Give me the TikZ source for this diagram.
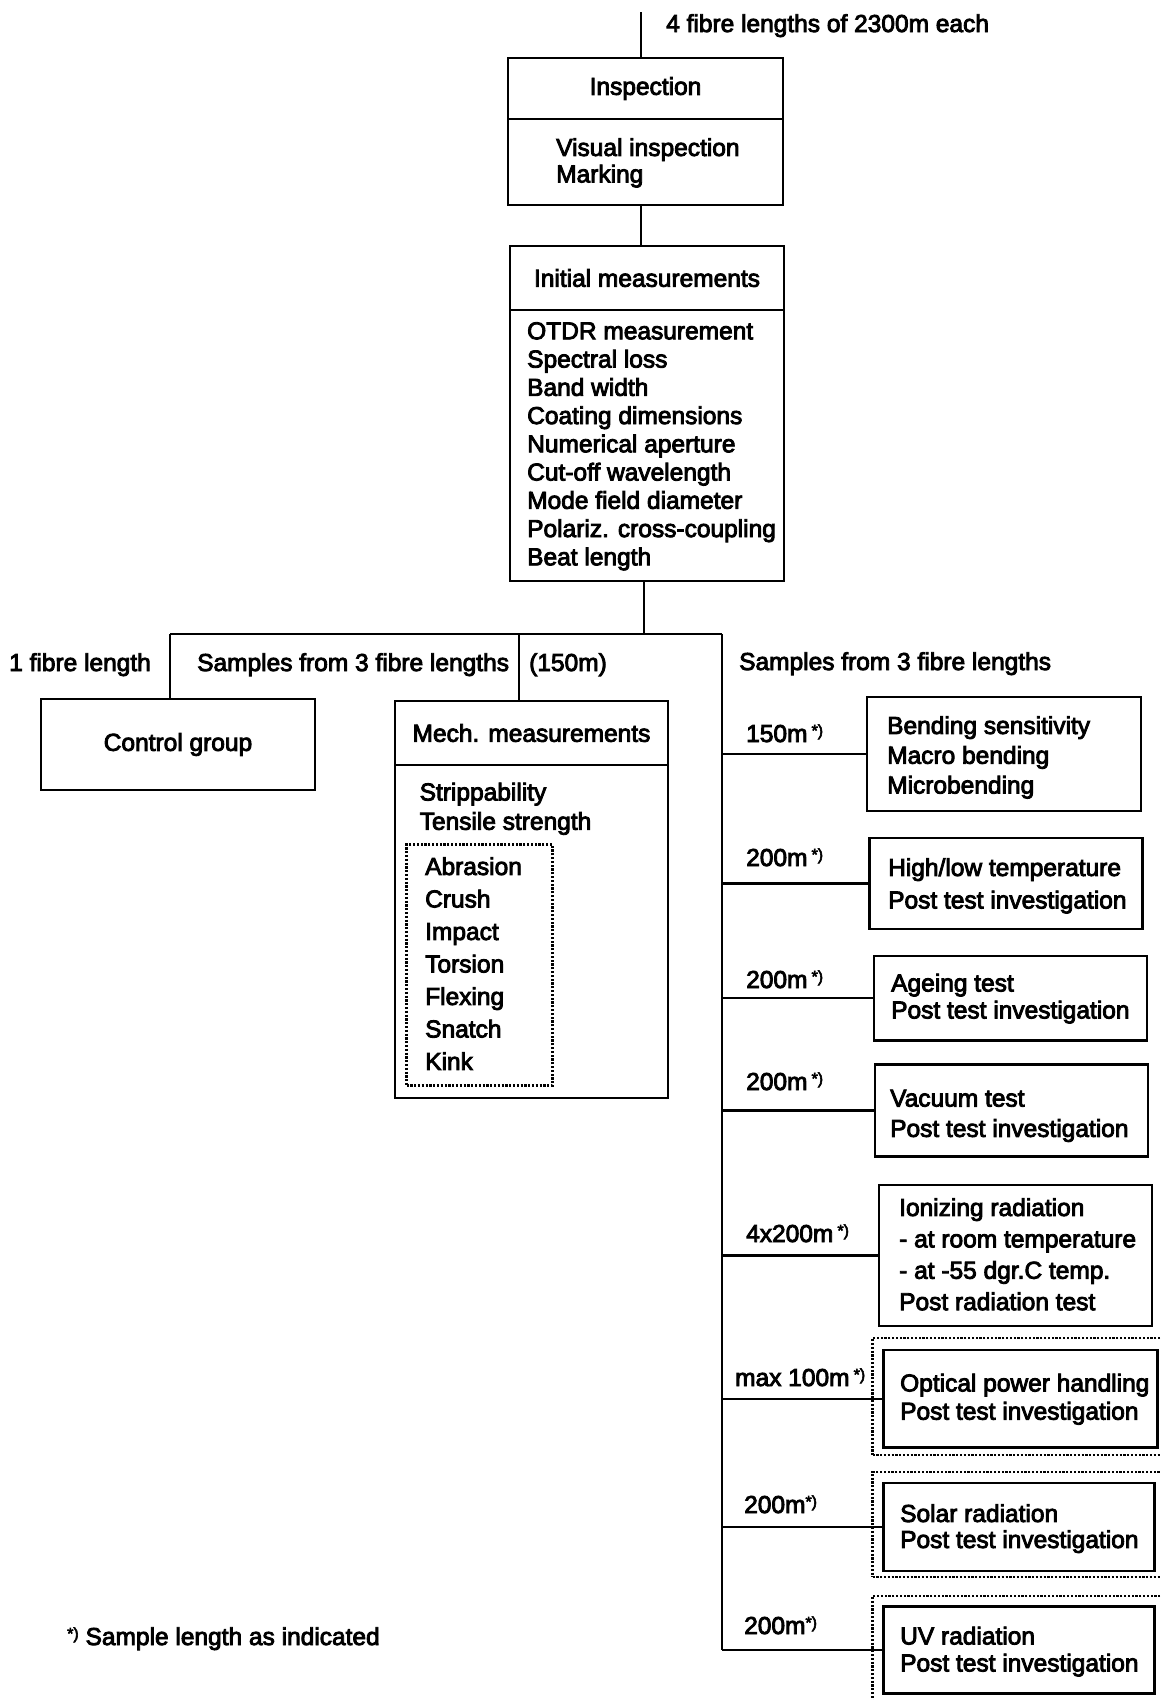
\documentclass[tikz,border=0pt]{standalone}
\usepackage{fontspec}
\setmainfont{Liberation Sans}[FakeBold=3.5]
\newcommand\diafont[1]{\fontsize{24.5pt}{#1pt}\selectfont}
\newcommand\fnmk{\raisebox{6pt}{\fontsize{16pt}{16pt}\selectfont *)}}
\begin{document}
\begin{tikzpicture}[x=1pt, y=-1pt,
  wire/.style={line width=2.2pt},
  box/.style={draw, line width=2.2pt, inner sep=0pt, outer sep=0pt, anchor=north west, font=\diafont{28}},
  dotbox/.style={draw, line width=2.2pt, dash pattern=on 2.2pt off 1.6pt, inner sep=0pt, outer sep=0pt, anchor=north west},
  lbl/.style={inner sep=0pt, anchor=base west, font=\diafont{28}},
  lst/.style={inner sep=0pt, anchor=north west, align=left, font=\diafont{#1}},
  lst/.default=28]
\useasboundingbox (0,0) rectangle (1160,1700);
\clip (0,0) rectangle (1160,1700);

% ---- inspection and initial measurements ----
\coordinate (feed) at (641,12);
\node[lbl] (feedlbl) at (666,32) {4 fibre lengths of 2300m each};

\node[box, minimum width=275pt, minimum height=61pt] (insphead) at (508,58) {Inspection};
\node[box, minimum width=275pt, minimum height=86pt] (inspbody) at (insphead.south west) {};
\node[lst=26.5] (insplist) at (556,138) {Visual inspection\\Marking};

\node[box, minimum width=274pt, minimum height=64pt] (inithead) at (510,246) {Initial measurements};
\node[box, minimum width=274pt, minimum height=271pt] (initbody) at (inithead.south west) {};
\node[lst=28.25] (initlist) at (527,322) {OTDR measurement\\Spectral loss\\Band width\\Coating dimensions\\Numerical aperture\\Cut-off wavelength\\Mode field diameter\\Polariz. cross-coupling\\Beat length};

% ---- split into three groups ----
\coordinate (split) at (644,634);
\coordinate (bl) at (170,634);
\coordinate (bm) at (519,634);
\coordinate (br) at (722,634);

\node[lbl] (onelen) at (9,671) {1 fibre length};
\node[lbl] (mechsrc) at (197,671) {Samples from 3 fibre lengths};
\node[lbl] (mechlen) at (529,671) {(150m)};
\node[lbl] (envsrc) at (739,670) {Samples from 3 fibre lengths};

\node[box, minimum width=274pt, minimum height=91pt] (ctrl) at (41,699) {Control group};

\node[box, minimum width=273pt, minimum height=64pt] (mechhead) at (395,701) {Mech. measurements};
\node[box, minimum width=273pt, minimum height=333pt] (mechbody) at (mechhead.south west) {};
\node[lst=29.3] (mechlist) at (419.5,782.5) {Strippability\\Tensile strength};
\node[dotbox, minimum width=146pt, minimum height=241pt] (mechdots) at (406.5,844.5) {};
\node[lst=32.5] (mechtests) at (425,857) {Abrasion\\Crush\\Impact\\Torsion\\Flexing\\Snatch\\Kink};

% ---- environmental tests ----
\node[box, minimum width=274pt, minimum height=114pt] (bend) at (867,697) {};
\node[lst=29.8] (bendtxt) at (887,716) {Bending sensitivity\\Macro bending\\Microbending};
\node[lbl] (lenbend) at (746,742) {150m\,\fnmk};

\node[box, minimum width=273pt, minimum height=91pt] (temp) at (869.5,838) {};
\node[lst=32.5] (temptxt) at (888,858) {High/low temperature\\Post test investigation};
\node[lbl] (lentemp) at (746,866) {200m\,\fnmk};

\node[box, minimum width=273pt, minimum height=84.5pt] (age) at (874,956) {};
\node[lst=27] (agetxt) at (891,973.5) {Ageing test\\Post test investigation};
\node[lbl] (lenage) at (746,988) {200m\,\fnmk};

\node[box, minimum width=273pt, minimum height=92pt] (vac) at (875,1064.5) {};
\node[lst=30.3] (vactxt) at (890,1089.5) {Vacuum test\\Post test investigation};
\node[lbl] (lenvac) at (746,1090) {200m\,\fnmk};

\node[box, minimum width=273pt, minimum height=141pt] (ion) at (879,1185) {};
\node[lst=31.4] (iontxt) at (899,1198) {Ionizing radiation\\- at room temperature\\- at -55 dgr.C temp.\\Post radiation test};
\node[lbl] (lenion) at (746,1242) {4x200m\,\fnmk};

\node[dotbox, minimum width=300pt, minimum height=117pt] (optdots) at (872.5,1338) {};
\node[box, minimum width=274pt, minimum height=97.5pt] (opt) at (883.5,1350) {};
\node[lst=28.2] (opttxt) at (900,1373.5) {Optical power handling\\Post test investigation};
\node[lbl] (lenopt) at (735,1386) {max 100m\,\fnmk};

\node[dotbox, minimum width=300pt, minimum height=105pt] (soldots) at (872.5,1472) {};
\node[box, minimum width=271pt, minimum height=88pt] (sol) at (883.5,1483) {};
\node[lst=26] (soltxt) at (900,1504) {Solar radiation\\Post test investigation};
\node[lbl] (lensol) at (744,1513) {200m\fnmk};

\node[dotbox, minimum width=300pt, minimum height=140pt] (uvdots) at (872.5,1596) {};
\node[box, minimum width=271pt, minimum height=87pt] (uv) at (883.5,1606.5) {};
\node[lst=27] (uvtxt) at (900,1626.5) {UV radiation\\Post test investigation};
\node[lbl] (lenuv) at (744,1634) {200m\fnmk};

\node[lbl] (foot) at (67,1645) {\fnmk\ Sample length as indicated};

% ---- connectors ----
\draw[wire] (feed) -- (feed |- insphead.north);
\draw[wire] (feed |- inspbody.south) -- (feed |- inithead.north);
\draw[wire] (split |- initbody.south) -- (split);
\draw[wire] (bl) -- (br);
\draw[wire] (bl) -- (bl |- ctrl.north);
\draw[wire] (bm) -- (bm |- mechhead.north);
\draw[wire] (br) -- (br |- uv.west);
\foreach \t in {bend,temp,age,vac,ion,opt,sol,uv}
  \draw[wire] (br |- \t.west) -- (\t.west);
\end{tikzpicture}
\end{document}
